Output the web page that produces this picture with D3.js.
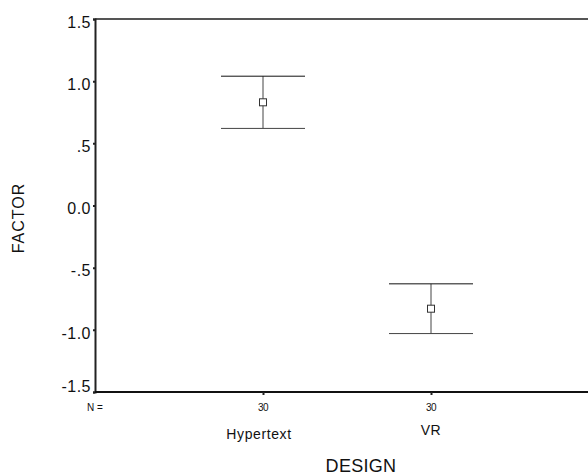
<!DOCTYPE html>
<html>
<head>
<meta charset="utf-8">
<script src="https://cdn.jsdelivr.net/npm/d3@7/dist/d3.min.js"></script>
<style>
  html, body { margin: 0; padding: 0; background: #fff; }
  svg { display: block; font-family: "Liberation Sans", Arial, sans-serif; }
</style>
</head>
<body>
<svg id="chart" width="588" height="475"></svg>
<script>
// Group means with 95% confidence interval bounds
const categories = ["Hypertext", "VR"];
const counts = [30, 30];
const means = [0.83, -0.83];
const lower = [0.62, -1.03];
const upper = [1.04, -0.63];
const yTicks = [1.5, 1.0, 0.5, 0.0, -0.5, -1.0, -1.5];
const yTickLabels = ["1.5", "1.0", ".5", "0.0", "-.5", "-1.0", "-1.5"];

const svg = d3.select("#chart");
const plotLeft = 95, plotRight = 599, plotTop = 19, plotBottom = 392;

const y = d3.scaleLinear().domain([-1.5, 1.5]).range([plotBottom, plotTop]);
const x = d3.scalePoint().domain(categories).range([plotLeft, plotRight]).padding(1);

// frame: top rule
svg.append("line").attr("x1", plotLeft).attr("x2", 588).attr("y1", plotTop).attr("y2", plotTop)
  .attr("stroke", "#555").attr("stroke-width", 2);

// y axis
const yAxis = d3.axisLeft(y).tickValues(yTicks).tickSize(2).tickPadding(2)
  .tickFormat((d, i) => yTickLabels[i]);
const gy = svg.append("g").attr("transform", `translate(${plotLeft},0)`).call(yAxis);
gy.select(".domain").attr("stroke", "#222").attr("stroke-width", 2);
gy.selectAll(".tick line").attr("stroke", "#222").attr("stroke-width", 2);
gy.selectAll(".tick text")
  .attr("font-size", 16).attr("letter-spacing", 0.5).attr("fill", "#111")
  .attr("font-family", "Liberation Sans, Arial, sans-serif")
  .attr("dy", (d) => d === -1.5 ? "-0.05em" : "0.52em");

// x axis
const xAxis = d3.axisBottom(x).tickSize(3).tickFormat("");
const gx = svg.append("g").attr("transform", `translate(0,${plotBottom})`).call(xAxis);
gx.select(".domain").attr("stroke", "#111").attr("stroke-width", 2)
  .attr("d", `M${plotLeft},0H588`);
gx.selectAll(".tick line").attr("stroke", "#222").attr("stroke-width", 2);

// N = counts row
svg.append("text").attr("x", 87).attr("y", 411).attr("font-size", 10)
  .attr("fill", "#111").text("N =");
svg.selectAll(".ncount").data(categories).join("text")
  .attr("class", "ncount")
  .attr("x", (d) => x(d)).attr("y", 411).attr("text-anchor", "middle")
  .attr("font-size", 10).attr("fill", "#111").attr("letter-spacing", -0.5)
  .text((d, i) => counts[i]);

// category labels
svg.selectAll(".cat").data(categories).join("text")
  .attr("class", "cat")
  .attr("x", (d) => x(d) - (d === "Hypertext" ? 4 : 0))
  .attr("y", (d) => d === "VR" ? 435 : 439)
  .attr("text-anchor", "middle").attr("font-size", 14).attr("letter-spacing", 0.6)
  .attr("fill", "#111").text((d) => d);

// axis titles
svg.append("text").attr("x", 361).attr("y", 472).attr("text-anchor", "middle")
  .attr("font-size", 18).attr("letter-spacing", 0.3).attr("fill", "#111").text("DESIGN");
svg.append("text").attr("transform", "translate(24,218) rotate(-90)")
  .attr("text-anchor", "middle").attr("font-size", 16).attr("letter-spacing", 1)
  .attr("fill", "#111").text("FACTOR");

// error bars
const capHalf = 42;
const bars = svg.selectAll(".bar").data(categories).join("g").attr("class", "bar");
bars.append("line")
  .attr("x1", (d) => x(d)).attr("x2", (d) => x(d))
  .attr("y1", (d, i) => y(upper[i])).attr("y2", (d, i) => y(lower[i]))
  .attr("stroke", "#444").attr("stroke-width", 1);
bars.append("line")
  .attr("x1", (d) => x(d) - capHalf).attr("x2", (d) => x(d) + capHalf)
  .attr("y1", (d, i) => y(upper[i])).attr("y2", (d, i) => y(upper[i]))
  .attr("stroke", "#111").attr("stroke-width", 1);
bars.append("line")
  .attr("x1", (d) => x(d) - capHalf).attr("x2", (d) => x(d) + capHalf)
  .attr("y1", (d, i) => y(lower[i])).attr("y2", (d, i) => y(lower[i]))
  .attr("stroke", "#444").attr("stroke-width", 1);
bars.append("rect")
  .attr("x", (d) => x(d) - 3.5).attr("y", (d, i) => y(means[i]) - 3.5)
  .attr("width", 7).attr("height", 7)
  .attr("fill", "#fff").attr("stroke", "#333").attr("stroke-width", 1);
</script>
</body>
</html>
